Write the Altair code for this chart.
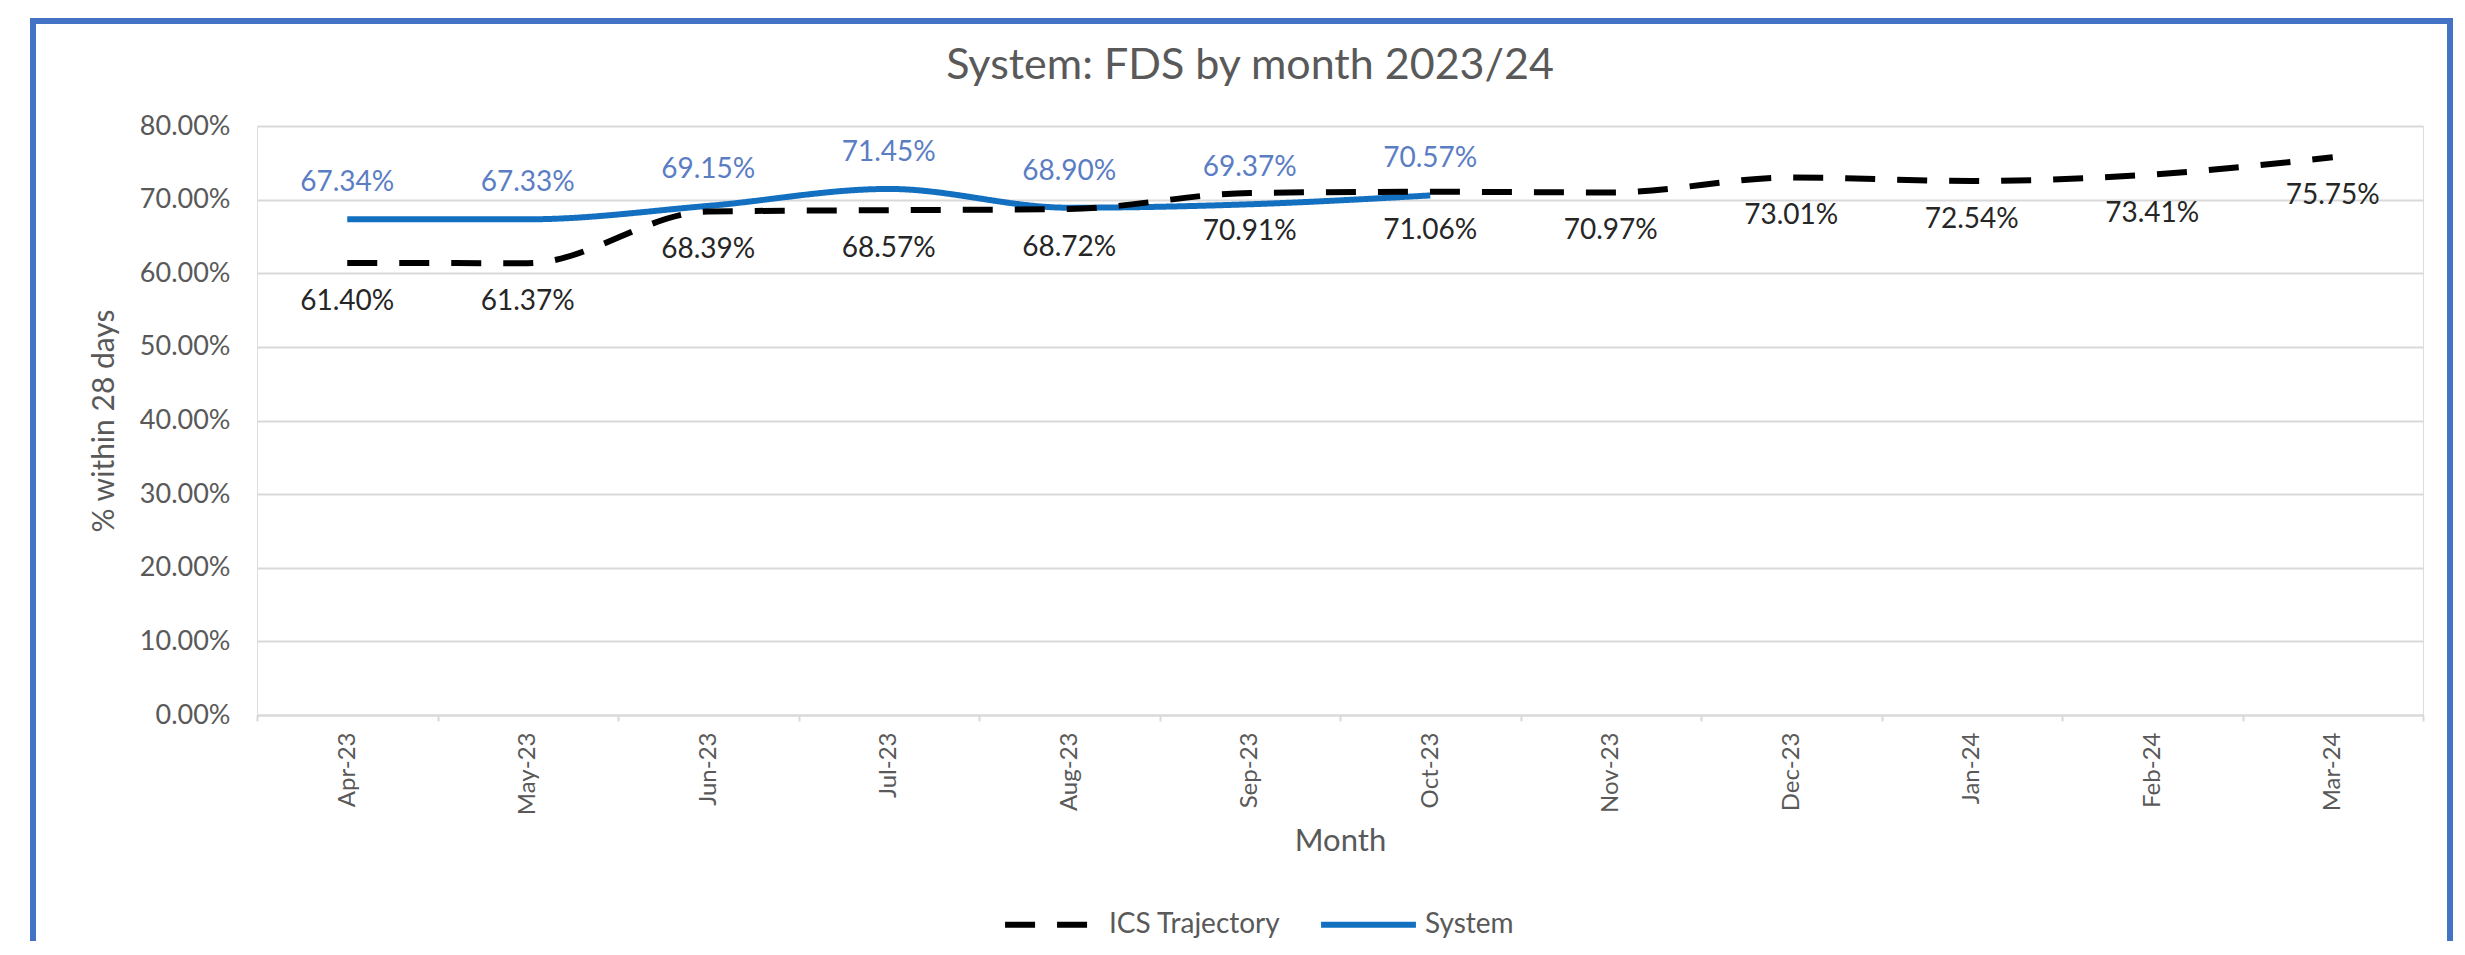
import altair as alt
import pandas as pd

# ---- data ----
months = ["Apr-23", "May-23", "Jun-23", "Jul-23", "Aug-23", "Sep-23",
          "Oct-23", "Nov-23", "Dec-23", "Jan-24", "Feb-24", "Mar-24"]
ics_trajectory = [61.40, 61.37, 68.39, 68.57, 68.72, 70.91,
                  71.06, 70.97, 73.01, 72.54, 73.41, 75.75]
system_values = [67.34, 67.33, 69.15, 71.45, 68.90, 69.37, 70.57]
y_tick_values = [0, 10, 20, 30, 40, 50, 60, 70, 80]

series_names = ["ICS Trajectory", "System"]
line_colors = ["#000000", "#1370C0"]
line_dashes = [[30, 22], [1, 0]]

rows = []
for m, v in zip(months, ics_trajectory):
    rows.append({"month": m, "series": "ICS Trajectory", "value": v / 100})
for m, v in zip(months, system_values):
    rows.append({"month": m, "series": "System", "value": v / 100})
df = pd.DataFrame(rows)

FONT = "Lato"
GREY = "#595959"
GRID = "#D9D9D9"

x_enc = alt.X(
    "month:N",
    sort=months,
    bandPosition=0.5,
    scale=alt.Scale(type="band", paddingInner=0, paddingOuter=0),
    axis=alt.Axis(
        title="Month", labelAngle=270, labelPadding=11, tickSize=6,
        tickBand="extent", tickColor=GRID, tickWidth=2,
        domainColor=GRID, domainWidth=2, grid=False,
        labelColor=GREY, labelFont=FONT, labelFontSize=24,
        titleFont=FONT, titleFontSize=31, titleFontWeight="normal",
        titleColor=GREY, titleY=126, titleBaseline="middle",
    ),
)
y_enc = alt.Y(
    "value:Q",
    scale=alt.Scale(domain=[0, 0.8], nice=False, zero=True),
    axis=alt.Axis(
        values=[v / 100 for v in y_tick_values], format=".2%",
        title="% within 28 days", domain=False, ticks=False, labelPadding=27,
        grid=True, gridColor=GRID, gridWidth=2,
        labelColor=GREY, labelFont=FONT, labelFontSize=27,
        titleFont=FONT, titleFontSize=30, titleFontWeight="normal",
        titleColor=GREY, titleX=-153, titleY=294.5, titleBaseline="middle",
    ),
)

legend = alt.Legend(
    title=None, orient="none", legendX=745, legendY=748,
    direction="horizontal", symbolType="stroke", symbolStrokeWidth=6,
    symbolSize=9000, labelFont=FONT, labelFontSize=28, labelColor=GREY,
    labelOffset=6, columnPadding=28, labelLimit=500,
)
color_enc = alt.Color("series:N", scale=alt.Scale(domain=series_names, range=line_colors), legend=legend)
dash_enc = alt.StrokeDash("series:N", scale=alt.Scale(domain=series_names, range=line_dashes), legend=legend)

base = alt.Chart(df)

system_line = base.transform_filter(alt.datum.series == "System").mark_line(
    strokeWidth=6, interpolate="monotone", strokeCap="butt"
).encode(x=x_enc, y=y_enc, color=color_enc, strokeDash=dash_enc)

ics_line = base.transform_filter(alt.datum.series == "ICS Trajectory").mark_line(
    strokeWidth=6, interpolate="monotone", strokeCap="butt"
).encode(x=x_enc, y=y_enc, color=color_enc, strokeDash=dash_enc)

system_text = base.transform_filter(alt.datum.series == "System").mark_text(
    dy=-36, font=FONT, fontSize=28, color="#5A7DC3", baseline="middle"
).encode(x=x_enc, y=y_enc, text=alt.Text("value:Q", format=".2%"))

ics_text = base.transform_filter(alt.datum.series == "ICS Trajectory").mark_text(
    dy=39, font=FONT, fontSize=28, color="#262626", baseline="middle"
).encode(x=x_enc, y=y_enc, text=alt.Text("value:Q", format=".2%"))

border = alt.Chart(pd.DataFrame({"k": [0]})).mark_rect(
    fill="transparent", stroke="#4472C4", strokeWidth=6
).encode(x=alt.value(-224), x2=alt.value(2193), y=alt.value(-105), y2=alt.value(830))

chart = alt.layer(border, system_line, ics_line, system_text, ics_text).properties(
    width=2166,
    height=589,
    padding={"left": 249, "top": 118, "right": 30, "bottom": 226},
    autosize=alt.AutoSizeParams(type="none"),
    title=alt.Title(
        "System: FDS by month 2023/24", font=FONT, fontSize=43, color=GREY,
        fontWeight="normal", anchor="middle", frame="group", dx=-90, offset=-70,
    ),
).configure_view(strokeWidth=0).configure(background="white")

chart.save("out.html", embed_options={"renderer": "svg", "actions": False})
